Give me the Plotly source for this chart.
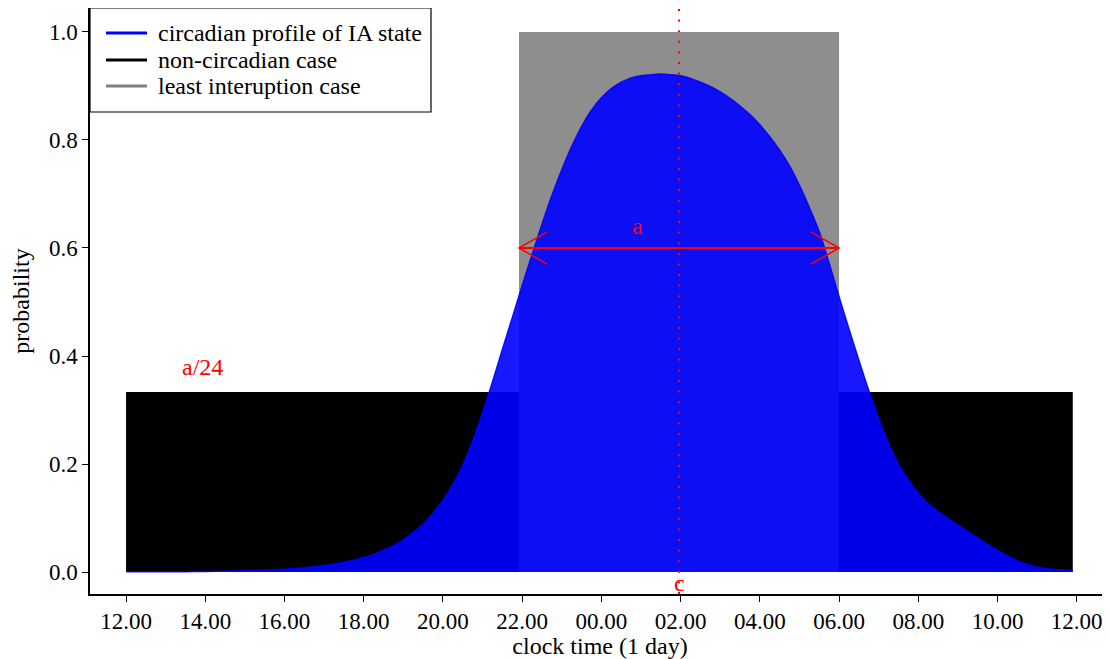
import plotly.graph_objects as go

# ---- data (hours after 12.00, one day) ----
hours = [0.0, 0.5, 1.0, 1.5, 2.0, 2.5, 3.0, 3.5, 4.0, 4.5, 5.0, 5.5,
         6.0, 6.25, 6.5, 6.75, 7.0, 7.25, 7.5, 7.75, 8.0, 8.25, 8.5, 8.75,
         9.0, 9.25, 9.5, 9.75, 10.0, 10.25, 10.5, 10.75, 11.0, 11.25, 11.5, 11.75,
         12.0, 12.25, 12.5, 12.75, 13.0, 13.25, 13.5, 13.75, 14.0, 14.25, 14.5, 14.75,
         15.0, 15.25, 15.5, 15.75, 16.0, 16.25, 16.5, 16.75, 17.0, 17.25, 17.5, 17.75,
         18.0, 18.25, 18.5, 18.75, 19.0, 19.25, 19.5, 19.75, 20.0, 20.25, 20.5, 20.75,
         21.0, 21.25, 21.5, 21.75, 22.0, 22.25, 22.5, 22.75, 23.0, 23.25, 23.5, 23.75,
         23.9]
ia_prob = [0.0003, 0.0004, 0.0005, 0.0007, 0.001, 0.0015, 0.0023, 0.0035, 0.0053, 0.008,
           0.012, 0.018,
           0.0268, 0.0327, 0.040, 0.0488, 0.0596, 0.0728, 0.0889, 0.1086, 0.1327, 0.162,
           0.198, 0.242,
           0.295, 0.352, 0.412, 0.471, 0.530, 0.588, 0.644, 0.697, 0.745, 0.788, 0.825,
           0.855,
           0.878, 0.895, 0.907, 0.915, 0.919, 0.921, 0.922, 0.921, 0.919, 0.914, 0.907,
           0.899,
           0.889, 0.877, 0.863, 0.847, 0.828, 0.806, 0.781, 0.752, 0.716, 0.675, 0.630,
           0.572,
           0.510, 0.450, 0.392, 0.336, 0.284, 0.238, 0.200, 0.170, 0.146, 0.127, 0.112,
           0.099,
           0.087, 0.075, 0.063, 0.051, 0.040, 0.030, 0.021, 0.014, 0.009, 0.006, 0.0045,
           0.0035, 0.003]

day_span = [0.0, 23.9]          # non-circadian case extent
a_hours = 8.0                   # a
non_circ_level = a_hours / 24   # a/24
least_span = [9.92, 18.0]       # least interruption case extent
least_level = 1.0
c_hour = 13.96                  # c

tick_vals = [0, 2, 4, 6, 8, 10, 12, 14, 16, 18, 20, 22, 24]
tick_text = ["12.00", "14.00", "16.00", "18.00", "20.00", "22.00", "00.00",
             "02.00", "04.00", "06.00", "08.00", "10.00", "12.00"]
y_ticks = [0.0, 0.2, 0.4, 0.6, 0.8, 1.0]
y_tick_text = ["0.0", "0.2", "0.4", "0.6", "0.8", "1.0"]

legend_names = ["circadian profile of IA state", "non-circadian case", "least interuption case"]
legend_colors = ["#0000ff", "#000000", "#7f7f7f"]

FONT = "Liberation Serif, Times New Roman, Times, serif"
RED = "#ff0000"

fig = go.Figure()

# black: non-circadian
fig.add_trace(go.Scatter(x=day_span, y=[non_circ_level] * 2, mode="lines",
                         line=dict(width=0, color="black"), fill="tozeroy",
                         fillcolor="#000000", showlegend=False, hoverinfo="skip",
                         name=legend_names[1]))
# gray: least interruption
fig.add_trace(go.Scatter(x=least_span, y=[least_level] * 2, mode="lines",
                         line=dict(width=0, color="#8e8e8e"), fill="tozeroy",
                         fillcolor="#8e8e8e", showlegend=False, hoverinfo="skip",
                         name=legend_names[2]))
# blue: circadian profile
fig.add_trace(go.Scatter(x=hours, y=ia_prob, mode="lines",
                         line=dict(width=1.5, color="rgba(0,0,255,0.9)", shape="spline",
                                   smoothing=1.0),
                         fill="tozeroy", fillcolor="rgba(0,0,255,0.9)",
                         showlegend=False, hoverinfo="skip", name=legend_names[0]))

# red dotted line at c
fig.add_shape(type="line", xref="x", yref="paper", x0=c_hour, x1=c_hour, y0=0, y1=1,
              line=dict(color=RED, width=2, dash="2px,8.6px"))

# double arrow for a
arr_y = 0.6
dx, dy = 0.71, 0.03
x0, x1 = least_span
fig.add_shape(type="line", x0=x0, x1=x1, y0=arr_y, y1=arr_y, line=dict(color=RED, width=2))
fig.add_shape(type="path",
              path=f"M{x0+dx},{arr_y+dy} L{x0},{arr_y} L{x0+dx},{arr_y-dy}",
              line=dict(color=RED, width=1.5))
fig.add_shape(type="path",
              path=f"M{x1-dx},{arr_y+dy} L{x1},{arr_y} L{x1-dx},{arr_y-dy}",
              line=dict(color=RED, width=1.5))

fig.add_annotation(x=12.9, y=0.64, text="a", showarrow=False,
                   font=dict(family=FONT, size=24, color=RED))
fig.add_annotation(x=1.92, y=0.38, text="a/24", showarrow=False,
                   font=dict(family=FONT, size=24, color=RED))
fig.add_annotation(x=c_hour, y=-0.02, text="c", showarrow=False,
                   font=dict(family=FONT, size=24, color=RED))

# legend box (paper coordinates of the plotting area)
fig.add_shape(type="rect", xref="paper", yref="paper", x0=0, x1=0.3343, y0=0.8225, y1=1.0,
              fillcolor="white", line=dict(color="black", width=1.2), layer="above")
row_y = [0.9573, 0.9113, 0.8669]
for name, col, ry in zip(legend_names, legend_colors, row_y):
    fig.add_shape(type="line", xref="paper", yref="paper", x0=0.0157, x1=0.0559,
                  y0=ry, y1=ry, line=dict(color=col, width=3), layer="above")
    fig.add_annotation(xref="paper", yref="paper", x=0.0647, y=ry, text=name,
                       showarrow=False, xanchor="left", yanchor="middle",
                       font=dict(family=FONT, size=24, color="black"))

fig.update_layout(
    width=1102, height=651,
    margin=dict(l=82, r=0, t=0, b=65, autoexpand=False),
    paper_bgcolor="white", plot_bgcolor="white",
    font=dict(family=FONT, size=23, color="black"),
    showlegend=False,
    xaxis=dict(range=[-0.91, 24.84], tickmode="array", tickvals=tick_vals,
               ticktext=tick_text, ticks="outside", ticklen=6, tickwidth=1.2,
               tickcolor="black", showline=True, linecolor="black", linewidth=1.5,
               showgrid=False, zeroline=False, tickfont=dict(size=23), automargin=False,
               title=dict(text="clock time (1 day)", font=dict(size=24), standoff=4)),
    yaxis=dict(range=[-0.0407, 1.0444], tickmode="array", tickvals=y_ticks,
               ticktext=y_tick_text, ticks="outside", ticklen=6, tickwidth=1.2,
               tickcolor="black", showline=True, linecolor="black", linewidth=1.5,
               showgrid=False, zeroline=False, tickfont=dict(size=23), automargin=False,
               title=dict(text="probability", font=dict(size=24), standoff=18)),
)

fig.write_html("out.html")
